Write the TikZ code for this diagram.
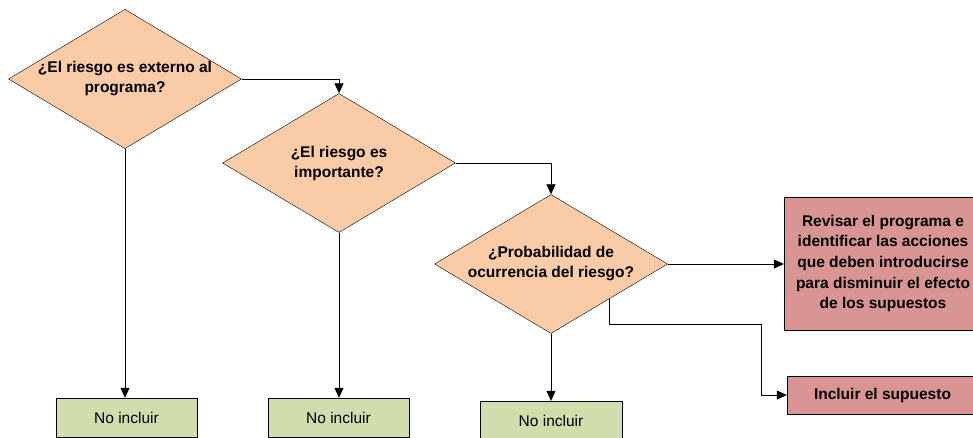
\documentclass[tikz,border=0pt]{standalone}
\usepackage{fontspec}
\setmainfont{Liberation Sans}
\usetikzlibrary{shapes.geometric,arrows.meta}

\definecolor{peach}{HTML}{F9CBA6}
\definecolor{boxgreen}{HTML}{D0DDAD}
\definecolor{boxred}{HTML}{D99594}

\tikzset{
	decision/.style={diamond, draw, fill=peach, aspect=1.66, inner sep=0pt,
		minimum width=233pt, minimum height=139pt, align=center,
		font=\fontsize{15.5}{20}\selectfont\bfseries},
	noinc/.style={rectangle, draw, fill=boxgreen, minimum width=141pt, minimum height=39pt,
		font=\fontsize{15.5}{20}\selectfont},
	action/.style={rectangle, draw, fill=boxred, align=center,
		font=\fontsize{15.5}{20.7}\selectfont\bfseries},
	conn/.style={-{Triangle[length=10pt,width=9pt]}, line width=0.8pt}
}

\begin{document}
\begin{tikzpicture}[x=1pt, y=-1pt]
	\useasboundingbox (0,0) rectangle (973,438);

	% preguntas
	\node[decision] (externo) 	at (125,79) 	{¿El riesgo es externo al\\programa?};
	\node[decision] (importante) at (339,163) 	{¿El riesgo es\\importante?};
	\node[decision] (probab) 	at (551,264) 	{¿Probabilidad de\\ocurrencia del riesgo?};

	% resultados
	\node[noinc] (no1) at (126.5,417.5) {No incluir};
	\node[noinc] (no2) at (338.5,417.5) {No incluir};
	\node[noinc, minimum width=142pt] (no3) at (551,420.5) {No incluir};

	\node[action, minimum width=198pt, minimum height=133pt] (revisar) at (883,263.5)
		{Revisar el programa e\\identificar las acciones\\que deben introducirse\\para disminuir el efecto\\de los supuestos};
	\node[action, minimum width=191pt, minimum height=38pt] (incluir) at (882.5,395) {Incluir el supuesto};

	\coordinate (bend) at (761,324);

	% conectores
	\draw[conn] (externo.east) -| (importante.north);
	\draw[conn] (importante.east) -| (probab.north);
	\draw[conn] (probab.east) -- (probab.east -| revisar.west);
	\draw[conn] (probab.south east) |- (bend) |- (incluir.west);

	\draw[conn] (externo.south) -- (externo.south |- no1.north);
	\draw[conn] (importante.south) -- (importante.south |- no2.north);
	\draw[conn] (probab.south) -- (probab.south |- no3.north);
\end{tikzpicture}
\end{document}
